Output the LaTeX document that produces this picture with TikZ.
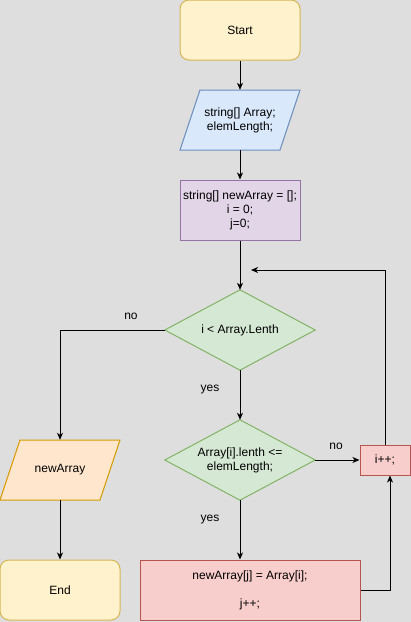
\documentclass[tikz,border=0pt]{standalone}
\usepackage{fontspec}
\setmainfont{Liberation Sans}
\usetikzlibrary{arrows.meta}
\definecolor{bg}{HTML}{DEDEDE}
\definecolor{yfill}{HTML}{FFF2CC}\definecolor{ydraw}{HTML}{D6B656}
\definecolor{bfill}{HTML}{DAE8FC}\definecolor{bdraw}{HTML}{6C8EBF}
\definecolor{pfill}{HTML}{E1D5E7}\definecolor{pdraw}{HTML}{9673A6}
\definecolor{gfill}{HTML}{D5E8D4}\definecolor{gdraw}{HTML}{82B366}
\definecolor{ofill}{HTML}{FFE6CC}\definecolor{odraw}{HTML}{D79B00}
\definecolor{rfill}{HTML}{F8CECC}\definecolor{rdraw}{HTML}{B85450}
\begin{document}
\begin{tikzpicture}[x=1pt,y=-1pt,
  every node/.style={font=\fontsize{12}{14}\selectfont, align=center, inner sep=0pt},
  box/.style={draw, line width=1pt, minimum width=#1, minimum height=60pt},
  ghost/.style={minimum width=#1, minimum height=60pt},
  lbl/.style={font=\fontsize{12}{14}\selectfont},
  conn/.style={line width=1pt, -{Stealth[length=7pt,width=6pt,inset=2pt]}},
  wire/.style={line width=1pt}]
\fill[bg] (0,0) rectangle (411,622);
\useasboundingbox (0,0) rectangle (411,622);
% Start
\node[box=120pt, rounded corners=9pt, fill=yfill, draw=ydraw] (start) at (240,30) {Start};
% input parallelogram
\node[ghost=120pt] (inp) at (240,120) {};
\filldraw[fill=bfill, draw=bdraw, line width=1pt] (200,90) -- (300,90) -- (280,150) -- (180,150) -- cycle;
\node at (inp) {string[] Array;\\elemLength;};
% init
\node[box=120pt, fill=pfill, draw=pdraw] (init) at (240,210) {string[] newArray = [];\\i = 0;\\j=0;};
% diamond 1
\node[minimum width=150pt, minimum height=80pt] (d1) at (240,330) {};
\filldraw[fill=gfill, draw=gdraw, line width=1pt] (d1.north) -- (d1.east) -- (d1.south) -- (d1.west) -- cycle;
\node at (d1) {i < Array.Lenth};
% diamond 2
\node[minimum width=150pt, minimum height=80pt] (d2) at (240,460) {};
\filldraw[fill=gfill, draw=gdraw, line width=1pt] (d2.north) -- (d2.east) -- (d2.south) -- (d2.west) -- cycle;
\node at (d2) {Array[i].lenth <=\\elemLength;};
% i++
\node[draw, line width=1pt, fill=rfill, draw=rdraw, minimum width=50pt, minimum height=30pt] (inc) at (385,460) {i++;};
% body
\node[box=220pt, fill=rfill, draw=rdraw] (body) at (250,590) {newArray[j] = Array[i];\\[14pt]j++;};
% output
\node[ghost=120pt] (out) at (60,470) {};
\filldraw[fill=ofill, draw=odraw, line width=1pt] (20,440) -- (120,440) -- (100,500) -- (0,500) -- cycle;
\node at (out) {newArray};
% End
\node[box=120pt, rounded corners=9pt, fill=yfill, draw=ydraw] (end) at (60,590) {End};
% connectors
\draw[conn] (start.south) -- (inp.north);
\draw[conn] (inp.south) -- (init.north);
\draw[conn] (init.south) -- (d1.north);
\draw[conn] (d1.south) -- (d2.north);
\draw[conn] (d1.west) -| (out.north);
\draw[conn] (out.south) -- (end.north);
\draw[conn] (d2.east) -- (inc.west);
\draw[conn] (d2.south) -- (body.north -| d2.south);
\coordinate (lp) at (251,270);
\draw[conn] (inc.north) |- (lp);
\coordinate (rb) at (390,590);
\draw[conn] (body.east) -- (rb) -- (rb |- inc.south);
% labels
\node[lbl] (l1) at (131,316) {no};
\node[lbl] (l2) at (210,390) {yes};
\node[lbl] (l3) at (336,446) {no};
\node[lbl] (l4) at (210,520) {yes};
\end{tikzpicture}
\end{document}
